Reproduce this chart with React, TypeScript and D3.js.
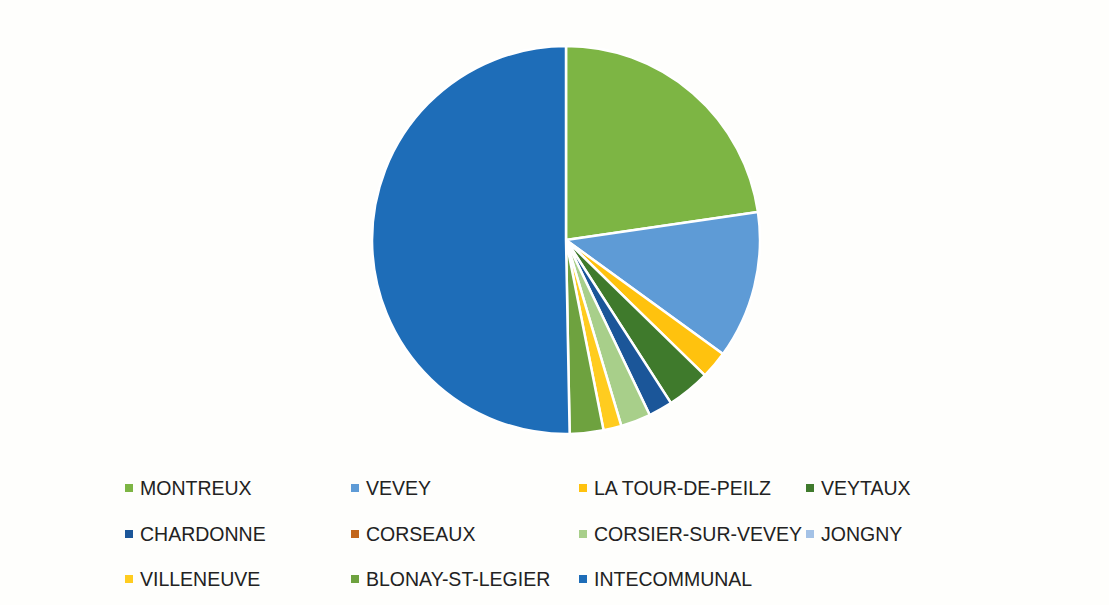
import React from "react";
import * as d3 from "d3";

const categories = [
  "MONTREUX",
  "VEVEY",
  "LA TOUR-DE-PEILZ",
  "VEYTAUX",
  "CHARDONNE",
  "CORSEAUX",
  "CORSIER-SUR-VEVEY",
  "JONGNY",
  "VILLENEUVE",
  "BLONAY-ST-LEGIER",
  "INTECOMMUNAL",
];
const values = [22.7, 12.3, 2.3, 3.6, 2.0, 0, 2.5, 0, 1.5, 2.8, 50.3];
const colors = [
  "#7db544",
  "#5e9bd6",
  "#ffc20e",
  "#3f7a2c",
  "#1b5699",
  "#c2651a",
  "#a8cf8a",
  "#a4c2e6",
  "#ffcc1f",
  "#6ea23f",
  "#1e6db8",
];

export default function App() {
  const W = 1109;
  const H = 605;
  const cx = 566;
  const cy = 240;
  const r = 194;
  const pie = d3.pie<number>().sort(null).value((d) => d);
  const arcs = pie(values);
  const arc = d3.arc<d3.PieArcDatum<number>>().innerRadius(0).outerRadius(r);

  const colX = [125, 351, 579, 806];
  const rowY = [495, 541, 586];

  return (
    <svg
      width={W}
      height={H}
      style={{ position: "absolute", left: 0, top: 0, background: "#fefefc" }}
    >
      <rect x={0} y={0} width={W} height={H} fill="#fefefc" />
      <g transform={`translate(${cx},${cy})`}>
        {arcs.map((a, i) =>
          a.endAngle - a.startAngle > 0 ? (
            <path
              key={i}
              d={arc(a) || ""}
              fill={colors[i]}
              stroke="#ffffff"
              strokeWidth={2.5}
              strokeLinejoin="round"
            />
          ) : null
        )}
      </g>
      <g>
        {categories.map((c, i) => {
          const col = i % 4;
          const row = Math.floor(i / 4);
          const x = colX[col];
          const y = rowY[row];
          return (
            <g key={c}>
              <rect x={x} y={y - 11} width={8} height={8} fill={colors[i]} />
              <text
                x={x + 15}
                y={y}
                fontFamily="'Liberation Sans', Arial, sans-serif"
                fontSize={19.5}
                fill="#222222"
              >
                {c}
              </text>
            </g>
          );
        })}
      </g>
    </svg>
  );
}
